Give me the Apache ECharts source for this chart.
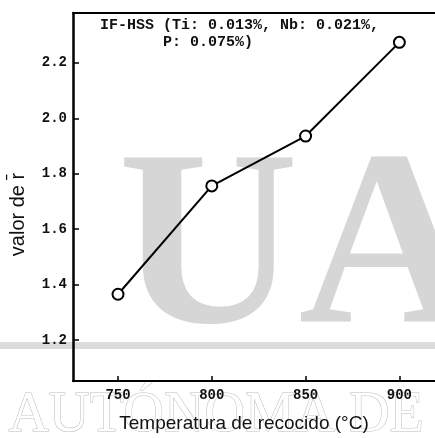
<!DOCTYPE html>
<html><head><meta charset="utf-8">
<script src="https://cdn.jsdelivr.net/npm/echarts@6/dist/echarts.min.js"></script>
<style>html,body{margin:0;padding:0;background:#fff}#c{width:435px;height:438px}</style>
</head><body><div id="c"></div>
<script>
const temperatures = [750, 800, 850, 900];
const rValues = [1.365, 1.756, 1.936, 2.274];
const xTicks = [750, 800, 850, 900];
const yTicks = [1.2, 1.4, 1.6, 1.8, 2.0, 2.2];

const chart = echarts.init(document.getElementById('c'));
const tickFont = {fontFamily: 'Liberation Mono', fontWeight: 'bold', fontSize: 14, color: '#111'};
chart.setOption({
  animation: false,
  backgroundColor: '#fff',
  grid: {left: 72, right: 0, top: 13, bottom: 48},
  graphic: [
    {type: 'text', left: 118, top: 132, z: -10, silent: true,
     style: {text: 'UA', font: 'bold 250px "Liberation Serif"', fill: '#d6d6d6'}},
    {type: 'rect', shape: {x: 0, y: 342, width: 435, height: 7}, z: -11, silent: true,
     style: {fill: '#dcdcdc'}},
    {type: 'text', left: 8, top: 388, z: -10, silent: true,
     style: {text: 'AUTÓNOMA DE', font: '56px "Liberation Serif"', fill: '#fff', stroke: '#bbbbbb', lineWidth: 1}},
    {type: 'text', left: 100, top: 18, style: {text: 'IF-HSS (Ti: 0.013%, Nb: 0.021%,', font: 'bold 15px "Liberation Mono"', fill: '#111'}},
    {type: 'text', left: 163, top: 35, style: {text: 'P: 0.075%)', font: 'bold 15px "Liberation Mono"', fill: '#111'}}
  ],
  xAxis: [{
    type: 'value', min: 726, max: 919,
    name: 'Temperatura de recocido (°C)', nameLocation: 'middle', nameGap: 33,
    nameTextStyle: {fontFamily: 'Liberation Sans', fontSize: 19, color: '#111', padding: [0, 20, 0, 0]},
    axisLine: {onZero: false, lineStyle: {color: '#000', width: 2}},
    axisTick: {inside: true, length: 5, customValues: xTicks, lineStyle: {color: '#000', width: 1.5}},
    axisLabel: {customValues: xTicks, margin: 7, ...tickFont},
    splitLine: {show: false}
  }, {
    type: 'value', position: 'top', min: 726, max: 919,
    axisLine: {show: true, lineStyle: {color: '#000', width: 2}},
    axisTick: {show: false}, axisLabel: {show: false}, splitLine: {show: false}
  }],
  yAxis: {
    type: 'value', min: 1.052, max: 2.38,
    name: 'valor de r\u0304', nameLocation: 'middle', nameGap: 45, nameRotate: 90,
    nameTextStyle: {fontFamily: 'Liberation Sans', fontSize: 20, color: '#111', padding: [0, 35, 0, 0]},
    axisLine: {show: true, onZero: false, lineStyle: {color: '#000', width: 2.5}},
    axisTick: {inside: true, length: 6, customValues: yTicks, lineStyle: {color: '#000', width: 1.5}},
    axisLabel: {customValues: yTicks, margin: 6, formatter: v => v.toFixed(1), ...tickFont},
    splitLine: {show: false}
  },
  series: [{
    type: 'line', data: temperatures.map((t, i) => [t, rValues[i]]),
    symbol: 'circle', symbolSize: 11,
    lineStyle: {color: '#000', width: 2},
    itemStyle: {color: '#fff', borderColor: '#000', borderWidth: 2}
  }]
});
</script></body></html>
